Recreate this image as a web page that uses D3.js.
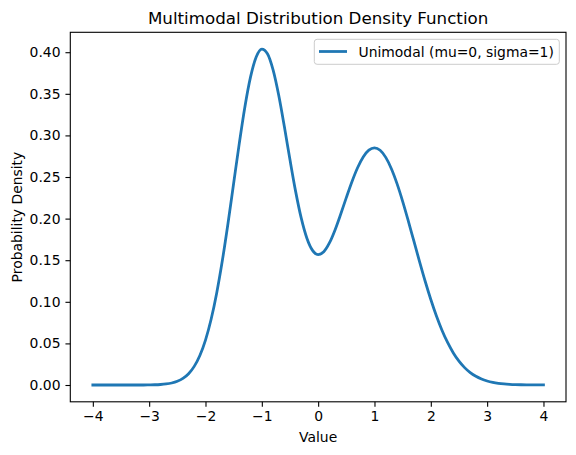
<!DOCTYPE html>
<html>
<head>
<meta charset="utf-8">
<script src="https://cdn.jsdelivr.net/npm/d3@7"></script>
<style>
  body { margin: 0; background: #fff; }
  text { font-family: "DejaVu Sans", sans-serif; fill: #000; }
</style>
</head>
<body>
<div id="chart"></div>
<script>
// x positions of the curve samples
var xValues = d3.range(81).map(function (i) { return +(-4 + i * 0.1).toFixed(1); });

// density, one per x sample
var densityValues = [
  0, 0, 0, 0, 0, 0, 0, 0, 0, 0,
  0.00013, 0.00029, 0.00061, 0.00123, 0.00239, 0.00443, 0.00792, 0.01358, 0.02239, 0.03547,
  0.05402, 0.07900, 0.11102, 0.14990, 0.19447, 0.24245, 0.29049, 0.33451, 0.37031, 0.39422,
  0.40375, 0.39821, 0.37872, 0.34815, 0.31060, 0.27066, 0.23275, 0.20053, 0.17648, 0.16185,
  0.15671, 0.16016, 0.17070, 0.18642, 0.20527, 0.22523, 0.24442, 0.26119, 0.27417, 0.28236,
  0.28509, 0.28213, 0.27359, 0.25997, 0.24203, 0.22080, 0.19735, 0.17284, 0.14831, 0.12469,
  0.10272, 0.08290, 0.06556, 0.05080, 0.03857, 0.02869, 0.02091, 0.01493, 0.01045, 0.00716,
  0.00481, 0.00317, 0.00204, 0.00129, 0.00080, 0.00048, 0.00029, 0.00017, 0.00010, 0.00005,
  0.00003
];

var xTicks = [-4, -3, -2, -1, 0, 1, 2, 3, 4];
var yTicks = [0, 0.05, 0.10, 0.15, 0.20, 0.25, 0.30, 0.35, 0.40];
var seriesName = "Unimodal (mu=0, sigma=1)";

var width = 576, height = 455;
var plotLeft = 70.3, plotRight = 566, plotTop = 32.3, plotBottom = 401.8;

var svg = d3.select("#chart").append("svg")
    .attr("width", width)
    .attr("height", height);

var x = d3.scaleLinear().domain([-4.4, 4.4]).range([plotLeft, plotRight]);
var ymax = d3.max(densityValues);
var pad = ymax * 0.05;
var y = d3.scaleLinear().domain([-pad, ymax + pad]).range([plotBottom, plotTop]);

var data = xValues.map(function (v, i) { return { x: v, y: densityValues[i] }; });

//curve, clipped to the axes box
svg.append("clipPath").attr("id", "clip")
    .append("rect")
    .attr("x", plotLeft).attr("y", plotTop)
    .attr("width", plotRight - plotLeft).attr("height", plotBottom - plotTop);

var line = d3.line()
    .x(function (d) { return x(d.x); })
    .y(function (d) { return y(d.y); })
    .curve(d3.curveMonotoneX);

svg.append("path")
    .datum(data)
    .attr("clip-path", "url(#clip)")
    .attr("fill", "none")
    .attr("stroke", "#1f77b4")
    .attr("stroke-width", 2.78)
    .attr("stroke-linejoin", "round")
    .attr("stroke-linecap", "square")
    .attr("d", line);

//axes
var fmtMinus = function (s) { return s.replace("-", "\u2212"); };

var xAxis = svg.append("g")
    .attr("transform", "translate(0," + plotBottom + ")")
    .call(d3.axisBottom(x).tickValues(xTicks).tickSize(4.86).tickPadding(4.9)
        .tickFormat(function (d) { return fmtMinus(d3.format("d")(d)); }));

var yAxis = svg.append("g")
    .attr("transform", "translate(" + plotLeft + ",0)")
    .call(d3.axisLeft(y).tickValues(yTicks).tickSize(4.86).tickPadding(4.9)
        .tickFormat(d3.format(".2f")));

[xAxis, yAxis].forEach(function (g) {
    g.select(".domain").remove();
    g.selectAll(".tick line").attr("stroke", "#000").attr("stroke-width", 1.1);
    g.selectAll(".tick text").style("font-size", "13.9px").style("font-family", "DejaVu Sans");
});

//frame
svg.append("rect")
    .attr("x", plotLeft).attr("y", plotTop)
    .attr("width", plotRight - plotLeft).attr("height", plotBottom - plotTop)
    .attr("fill", "none")
    .attr("stroke", "#000")
    .attr("stroke-width", 1.1);

//labels
svg.append("text")
    .attr("x", (plotLeft + plotRight) / 2).attr("y", 24)
    .attr("text-anchor", "middle")
    .style("font-size", "16.7px")
    .text("Multimodal Distribution Density Function");

svg.append("text")
    .attr("x", (plotLeft + plotRight) / 2).attr("y", 442)
    .attr("text-anchor", "middle")
    .style("font-size", "13.9px")
    .text("Value");

svg.append("text")
    .attr("transform", "translate(22," + (plotTop + plotBottom) / 2 + ") rotate(-90)")
    .attr("text-anchor", "middle")
    .style("font-size", "13.9px")
    .text("Probability Density");

//legend
var legend = svg.append("g");
legend.append("rect")
    .attr("x", 314.3).attr("y", 39.3)
    .attr("width", 245).attr("height", 25)
    .attr("rx", 2.8)
    .attr("fill", "#fff").attr("fill-opacity", 0.8)
    .attr("stroke", "#ccc").attr("stroke-width", 1);
legend.append("line")
    .attr("x1", 319).attr("x2", 347)
    .attr("y1", 51.5).attr("y2", 51.5)
    .attr("stroke", "#1f77b4").attr("stroke-width", 2.78);
legend.append("text")
    .attr("x", 358.5).attr("y", 56.5)
    .style("font-size", "13.9px")
    .text(seriesName);
</script>
</body>
</html>
